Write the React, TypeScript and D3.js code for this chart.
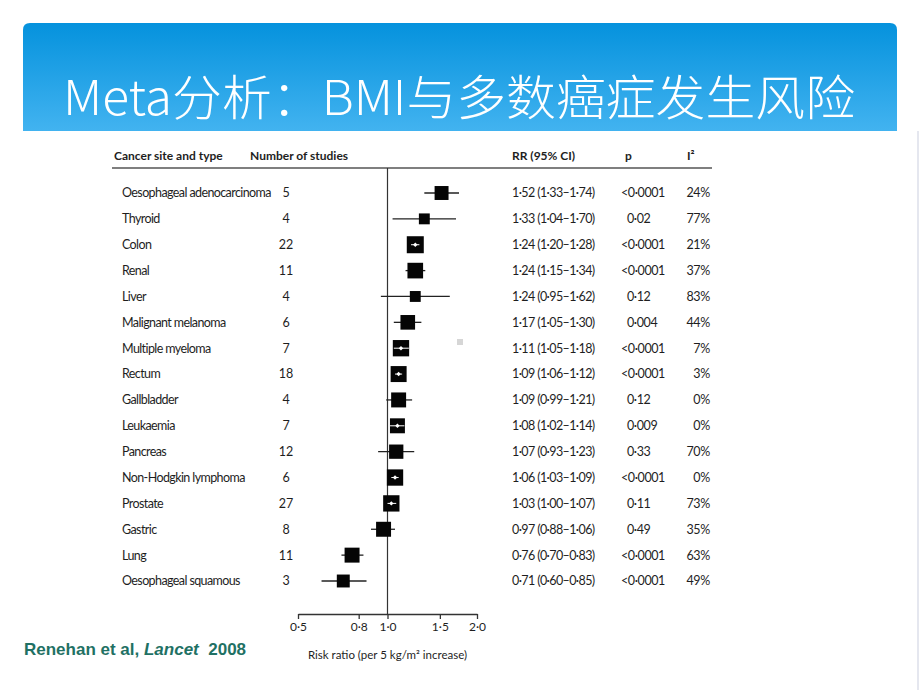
import React, { useRef, useEffect } from "react";
import { select, scaleLog, scalePoint, scaleLinear, axisBottom, format } from "d3";

// forest plot data (Renehan et al, Lancet 2008) - per 5 kg/m2 BMI increase
const sites = [
  "Oesophageal adenocarcinoma",
  "Thyroid",
  "Colon",
  "Renal",
  "Liver",
  "Malignant melanoma",
  "Multiple myeloma",
  "Rectum",
  "Gallbladder",
  "Leukaemia",
  "Pancreas",
  "Non-Hodgkin lymphoma",
  "Prostate",
  "Gastric",
  "Lung",
  "Oesophageal squamous",
];
const studies = [5, 4, 22, 11, 4, 6, 7, 18, 4, 7, 12, 6, 27, 8, 11, 3];
const rr = [1.52, 1.33, 1.24, 1.24, 1.24, 1.17, 1.11, 1.09, 1.09, 1.08, 1.07, 1.06, 1.03, 0.97, 0.76, 0.71];
const ciLow = [1.33, 1.04, 1.2, 1.15, 0.95, 1.05, 1.05, 1.06, 0.99, 1.02, 0.93, 1.03, 1.0, 0.88, 0.7, 0.6];
const ciHigh = [1.74, 1.7, 1.28, 1.34, 1.62, 1.3, 1.18, 1.12, 1.21, 1.14, 1.23, 1.09, 1.07, 1.06, 0.83, 0.85];
const pValues = [
  "<0·0001", "0·02", "<0·0001", "<0·0001", "0·12", "0·004", "<0·0001", "<0·0001",
  "0·12", "0·009", "0·33", "<0·0001", "0·11", "0·49", "<0·0001", "<0·0001",
];
const iSquared = [24, 77, 21, 37, 83, 44, 7, 3, 0, 0, 70, 0, 73, 35, 63, 49];
// relative study weight (drives box size)
const weights = [0.82, 0.64, 1.0, 0.92, 0.64, 0.86, 0.96, 0.94, 0.88, 0.88, 0.84, 0.96, 0.96, 0.88, 0.88, 0.76];
const axisTicks = [0.5, 0.8, 1.0, 1.5, 2.0];

const title = "Meta分析：BMI与多数癌症发生风险";
const xAxisLabel = "Risk ratio (per 5 kg/m² increase)";
const citation = ["Renehan et al, ", "Lancet", "  2008"];

const tableFont = "Lato, 'Liberation Sans', sans-serif";
const dot = (s: string) => s.replace(/\./g, "·");

const App = () => {
  const graphRef = useRef<SVGSVGElement>(null);

  useEffect(() => {
    const width = 920;
    const height = 690;
    const svg = select(graphRef.current).attr("width", width).attr("height", height);
    svg.selectAll("*").remove();

    // banner
    const defs = svg.append("defs");
    const grad = defs
      .append("linearGradient")
      .attr("id", "banner")
      .attr("x1", 0)
      .attr("y1", 0)
      .attr("x2", 0)
      .attr("y2", 1);
    grad.append("stop").attr("offset", "0%").attr("stop-color", "#0592dd");
    grad.append("stop").attr("offset", "100%").attr("stop-color", "#42b3f0");

    svg
      .append("path")
      .attr("d", "M23,131 L23,30 Q23,23 30,23 L890,23 Q897,23 897,30 L897,131 Z")
      .attr("fill", "url(#banner)");

    svg
      .append("text")
      .attr("x", 63)
      .attr("y", 115)
      .attr("fill", "#fff")
      .attr("font-family", "'Noto Sans CJK SC', sans-serif")
      .attr("font-weight", 300)
      .attr("font-size", 48)
      .attr("textLength", 792)
      .attr("lengthAdjust", "spacingAndGlyphs")
      .text(title);

    // faint slide edge on the right
    svg
      .append("line")
      .attr("x1", 918)
      .attr("x2", 918)
      .attr("y1", 131)
      .attr("y2", 690)
      .attr("stroke", "#dcdfea")
      .attr("stroke-width", 1.5);

    const xScale = scaleLog().domain([0.5, 2]).range([298, 477]);
    const yScale = scalePoint<number>()
      .domain(sites.map((_, i) => i))
      .range([193, 581]);
    const boxScale = scaleLinear().domain([0, 1]).range([0, 17]);

    const axisY = 614;
    const headerY = 160;
    const ruleY = 168;
    const ink = "#1e1e1e";

    // header
    const header = svg
      .append("g")
      .attr("font-family", tableFont)
      .attr("font-weight", "bold")
      .attr("font-size", 12)
      .attr("fill", ink);
    header.append("text").attr("x", 114).attr("y", headerY).text("Cancer site and type");
    header.append("text").attr("x", 250).attr("y", headerY).text("Number of studies");
    header.append("text").attr("x", 512).attr("y", headerY).text("RR (95% CI)");
    header.append("text").attr("x", 625).attr("y", headerY).text("p");
    header.append("text").attr("x", 687).attr("y", headerY).text("I²");

    svg
      .append("line")
      .attr("x1", 112)
      .attr("x2", 712)
      .attr("y1", ruleY)
      .attr("y2", ruleY)
      .attr("stroke", "#555")
      .attr("stroke-width", 1.5);

    // reference line at RR = 1
    svg
      .append("line")
      .attr("x1", xScale(1))
      .attr("x2", xScale(1))
      .attr("y1", ruleY)
      .attr("y2", axisY)
      .attr("stroke", "#333")
      .attr("stroke-width", 1.2);

    // table columns
    const rows = svg
      .append("g")
      .attr("font-family", tableFont)
      .attr("font-size", 12.5)
      .attr("fill", ink)
      .selectAll("g.row")
      .data(sites.map((s, i) => i))
      .enter()
      .append("g")
      .attr("class", "row")
      .attr("transform", (i) => `translate(0,${yScale(i)})`);

    rows
      .append("text")
      .attr("x", 122)
      .attr("dy", "0.35em")
      .attr("letter-spacing", -0.6)
      .text((i) => sites[i]);
    rows
      .append("text")
      .attr("x", 286)
      .attr("dy", "0.35em")
      .attr("text-anchor", "middle")
      .text((i) => studies[i]);
    rows
      .append("text")
      .attr("x", 512)
      .attr("dy", "0.35em")
      .attr("letter-spacing", -0.6)
      .text((i) => dot(`${format(".2f")(rr[i])} (${format(".2f")(ciLow[i])}–${format(".2f")(ciHigh[i])})`));
    rows
      .append("text")
      .attr("x", (i) => (pValues[i].startsWith("<") ? 621 : 627))
      .attr("dy", "0.35em")
      .attr("letter-spacing", -0.4)
      .text((i) => pValues[i]);
    rows
      .append("text")
      .attr("x", 710)
      .attr("dy", "0.35em")
      .attr("text-anchor", "end")
      .attr("letter-spacing", -0.3)
      .text((i) => `${iSquared[i]}%`);

    // forest marks
    const marks = svg
      .append("g")
      .selectAll("g.mark")
      .data(sites.map((s, i) => i))
      .enter()
      .append("g")
      .attr("class", "mark")
      .attr("transform", (i) => `translate(0,${yScale(i)})`);

    marks
      .append("line")
      .attr("x1", (i) => xScale(ciLow[i]))
      .attr("x2", (i) => xScale(ciHigh[i]))
      .attr("stroke", "#222")
      .attr("stroke-width", 1.3);

    marks
      .append("rect")
      .attr("x", (i) => xScale(rr[i]) - boxScale(weights[i]) / 2)
      .attr("y", (i) => -boxScale(weights[i]) / 2)
      .attr("width", (i) => boxScale(weights[i]))
      .attr("height", (i) => boxScale(weights[i]))
      .attr("fill", "#050505");

    // CI drawn in white when it sits inside the box
    const inside = (i: number) => {
      const half = boxScale(weights[i]) / 2;
      const cx = xScale(rr[i]);
      return xScale(ciLow[i]) > cx - half && xScale(ciHigh[i]) < cx + half;
    };
    const inner = marks.filter((i) => inside(i));
    inner
      .append("line")
      .attr("x1", (i) => xScale(ciLow[i]))
      .attr("x2", (i) => xScale(ciHigh[i]))
      .attr("stroke", "#fff")
      .attr("stroke-width", 1);
    inner
      .append("path")
      .attr("d", (i) => {
        const cx = xScale(rr[i]);
        return `M${cx - 2.2},0 L${cx},-2.2 L${cx + 2.2},0 L${cx},2.2 Z`;
      })
      .attr("fill", "#fff");

    // stray grey speck from the source scan
    svg
      .append("rect")
      .attr("x", 457)
      .attr("y", 339)
      .attr("width", 6)
      .attr("height", 6)
      .attr("fill", "#d6d6d6");

    // axis
    const xAxis = axisBottom(xScale)
      .tickValues(axisTicks)
      .tickSize(5)
      .tickSizeOuter(0)
      .tickPadding(3)
      .tickFormat((d) => dot(format(".1f")(d as number)));

    const xAxisG = svg.append("g").attr("transform", `translate(0,${axisY})`).call(xAxis);
    xAxisG.select(".domain").attr("stroke", "#333").attr("stroke-width", 1.3);
    xAxisG.selectAll(".tick line").attr("stroke", "#333").attr("stroke-width", 1.3);
    xAxisG
      .selectAll(".tick text")
      .attr("font-family", tableFont)
      .attr("font-size", 12)
      .attr("fill", ink);

    svg
      .append("text")
      .attr("x", xScale(1))
      .attr("y", 659)
      .attr("text-anchor", "middle")
      .attr("font-family", tableFont)
      .attr("font-size", 11.5)
      .attr("fill", ink)
      .text(xAxisLabel);

    // citation
    const cite = svg
      .append("text")
      .attr("x", 24)
      .attr("y", 655)
      .attr("font-family", "'Liberation Sans', Arial, sans-serif")
      .attr("font-weight", "bold")
      .attr("font-size", 17)
      .attr("fill", "#1f7164");
    cite.append("tspan").text(citation[0]);
    cite.append("tspan").attr("font-style", "italic").text(citation[1]);
    cite.append("tspan").attr("xml:space", "preserve").text(citation[2]);
  }, []);

  return <svg ref={graphRef} style={{ position: "absolute", left: 0, top: 0, background: "#fff" }}></svg>;
};

export default App;
